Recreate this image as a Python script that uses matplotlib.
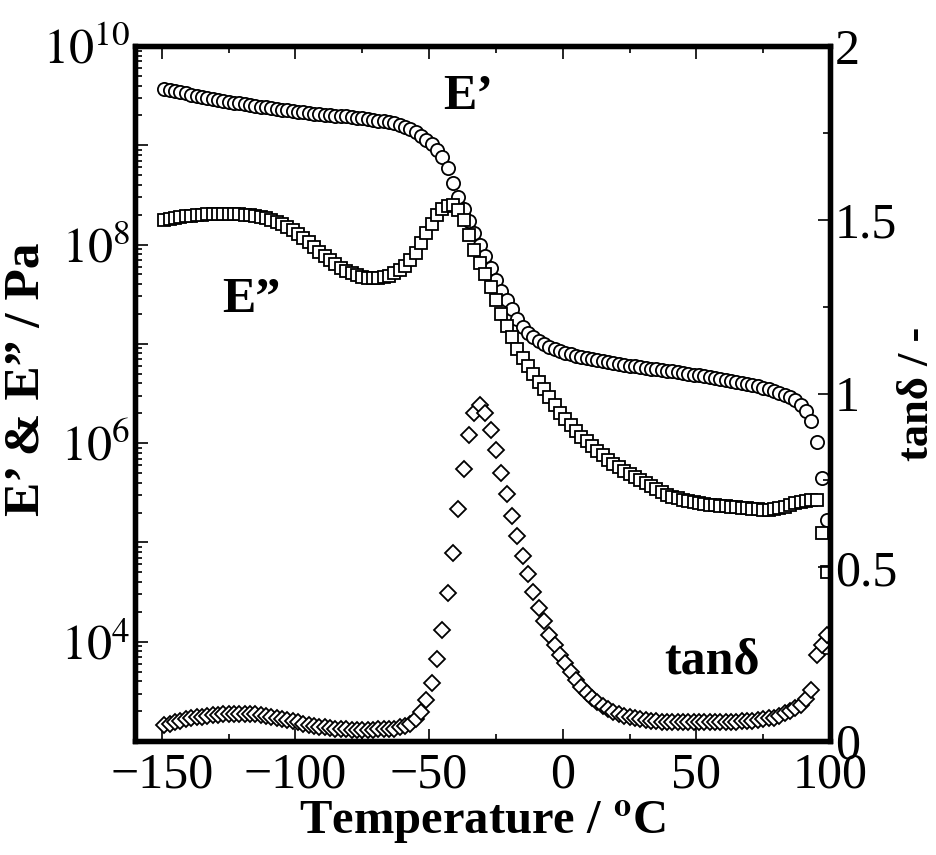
import matplotlib
matplotlib.use("Agg")
import matplotlib.pyplot as plt
import numpy as np
from matplotlib.ticker import LogLocator, MultipleLocator, FuncFormatter, NullFormatter

# Temperature grid of the DMA run (deg C)
temperature = [
    -149, -147, -145, -143, -141, -139, -137, -135, -133, -131,
    -129, -127, -125, -123, -121, -119, -117, -115, -113, -111,
    -109, -107, -105, -103, -101, -99, -97, -95, -93, -91,
    -89, -87, -85, -83, -81, -79, -77, -75, -73, -71,
    -69, -67, -65, -63, -61, -59, -57, -55, -53, -51,
    -49, -47, -45, -43, -41, -39, -37, -35, -33, -31,
    -29, -27, -25, -23, -21, -19, -17, -15, -13, -11,
    -9, -7, -5, -3, -1, 1, 3, 5, 7, 9,
    11, 13, 15, 17, 19, 21, 23, 25, 27, 29,
    31, 33, 35, 37, 39, 41, 43, 45, 47, 49,
    51, 53, 55, 57, 59, 61, 63, 65, 67, 69,
    71, 73, 75, 77, 79, 81, 83, 85, 87, 89,
    91, 93, 95, 97, 99,
]

# log10 of storage modulus E' (Pa)
log_storage = [
    9.57, 9.56, 9.55, 9.54, 9.53, 9.51, 9.50, 9.49, 9.48, 9.47,
    9.46, 9.45, 9.44, 9.43, 9.43, 9.42, 9.41, 9.40, 9.39, 9.39,
    9.38, 9.37, 9.36, 9.36, 9.35, 9.34, 9.34, 9.33, 9.32, 9.32,
    9.31, 9.31, 9.30, 9.29, 9.29, 9.28, 9.27, 9.27, 9.26, 9.25,
    9.24, 9.24, 9.23, 9.22, 9.20, 9.18, 9.16, 9.13, 9.09, 9.05,
    9.01, 8.95, 8.88, 8.77, 8.62, 8.48, 8.36, 8.24, 8.12, 8.00,
    7.88, 7.76, 7.64, 7.53, 7.44, 7.35, 7.25, 7.17, 7.11, 7.07,
    7.03, 7.00, 6.97, 6.95, 6.93, 6.91, 6.90, 6.88, 6.87, 6.86,
    6.85, 6.84, 6.83, 6.82, 6.81, 6.80, 6.79, 6.78, 6.78, 6.77,
    6.76, 6.75, 6.75, 6.74, 6.73, 6.73, 6.72, 6.71, 6.70, 6.69,
    6.69, 6.68, 6.67, 6.66, 6.65, 6.64, 6.63, 6.62, 6.61, 6.60,
    6.59, 6.58, 6.56, 6.55, 6.53, 6.51, 6.49, 6.46, 6.43, 6.38,
    6.32, 6.22, 6.01, 5.65, 5.23,
]

# log10 of loss modulus E'' (Pa)
log_loss = [
    8.25, 8.26, 8.27, 8.28, 8.29, 8.29, 8.30, 8.30, 8.31, 8.31,
    8.31, 8.31, 8.31, 8.31, 8.31, 8.30, 8.30, 8.29, 8.28, 8.27,
    8.25, 8.23, 8.21, 8.18, 8.15, 8.11, 8.07, 8.03, 7.98, 7.93,
    7.88, 7.84, 7.80, 7.76, 7.73, 7.71, 7.69, 7.67, 7.66, 7.66,
    7.66, 7.67, 7.68, 7.71, 7.74, 7.78, 7.84, 7.92, 8.02, 8.12,
    8.21, 8.30, 8.36, 8.39, 8.40, 8.35, 8.25, 8.10, 7.95, 7.81,
    7.70, 7.57, 7.44, 7.30, 7.18, 7.07, 6.95, 6.86, 6.78, 6.70,
    6.62, 6.55, 6.46, 6.38, 6.30, 6.24, 6.18, 6.12, 6.06, 6.02,
    5.97, 5.92, 5.88, 5.83, 5.79, 5.76, 5.72, 5.69, 5.66, 5.63,
    5.60, 5.57, 5.54, 5.51, 5.48, 5.46, 5.45, 5.43, 5.42, 5.41,
    5.40, 5.39, 5.38, 5.38, 5.37, 5.37, 5.36, 5.36, 5.35, 5.35,
    5.34, 5.34, 5.33, 5.33, 5.34, 5.35, 5.36, 5.38, 5.40, 5.41,
    5.42, 5.43, 5.43, 5.10, 4.70,
]

# loss tangent
tan_delta = [
    0.045, 0.048, 0.055, 0.058, 0.062, 0.065, 0.068, 0.070, 0.072, 0.074,
    0.076, 0.077, 0.078, 0.079, 0.079, 0.079, 0.078, 0.077, 0.075, 0.073,
    0.070, 0.067, 0.064, 0.060, 0.057, 0.054, 0.050, 0.047, 0.044, 0.041,
    0.039, 0.037, 0.036, 0.035, 0.034, 0.033, 0.033, 0.033, 0.033, 0.033,
    0.034, 0.034, 0.035, 0.036, 0.039, 0.043, 0.050, 0.062, 0.083, 0.118,
    0.168, 0.236, 0.320, 0.426, 0.541, 0.668, 0.783, 0.881, 0.944, 0.967,
    0.944, 0.895, 0.837, 0.771, 0.711, 0.647, 0.590, 0.532, 0.481, 0.429,
    0.383, 0.345, 0.305, 0.276, 0.247, 0.224, 0.199, 0.176, 0.156, 0.139,
    0.124, 0.111, 0.100, 0.091, 0.083, 0.077, 0.072, 0.068, 0.065, 0.062,
    0.060, 0.058, 0.057, 0.056, 0.055, 0.055, 0.054, 0.054, 0.054, 0.054,
    0.054, 0.054, 0.054, 0.054, 0.054, 0.055, 0.055, 0.056, 0.057, 0.058,
    0.059, 0.061, 0.063, 0.066, 0.066, 0.072, 0.080, 0.087, 0.094, 0.105,
    0.122, 0.147, 0.247, 0.276, 0.305,
]

plt.rcParams["font.family"] = ["Liberation Serif", "DejaVu Serif"]
plt.rcParams["mathtext.fontset"] = "stix"

T = np.array(temperature)
E1 = np.power(10.0, log_storage)
E2 = np.power(10.0, log_loss)
tand = np.array(tan_delta)

fig = plt.figure(figsize=(9.37, 8.55), dpi=100)
ax = fig.add_axes([0.1441, 0.1333, 0.7417, 0.8129])
ax2 = ax.twinx()

mk = dict(linestyle="none", markerfacecolor="white", markeredgecolor="black",
          markeredgewidth=1.3)
ax.plot(T, E1, marker="o", markersize=9.5, **mk)
ax.plot(T, E2, marker="s", markersize=9.3, **mk)
ax2.plot(T, tand, marker="D", markersize=8.3, **mk)

ax.set_yscale("log")
ax.set_xlim(-160, 100)
ax.set_ylim(1e3, 1e10)
ax2.set_ylim(0, 2)

ax.xaxis.set_major_locator(MultipleLocator(50))
ax.xaxis.set_minor_locator(MultipleLocator(25))
ax.yaxis.set_major_locator(LogLocator(base=10, numticks=20))
ax.yaxis.set_minor_locator(LogLocator(base=10, subs=np.arange(2, 10), numticks=20))
ax.yaxis.set_minor_formatter(NullFormatter())


def log_fmt(v, pos):
    e = int(round(np.log10(v)))
    if e % 2 == 0:
        return r"$10^{%d}$" % e
    return ""


ax.yaxis.set_major_formatter(FuncFormatter(log_fmt))
ax2.yaxis.set_major_locator(MultipleLocator(0.5))
ax2.yaxis.set_minor_locator(MultipleLocator(0.25))
ax2.yaxis.set_major_formatter(FuncFormatter(lambda v, p: "%g" % v))

for a in (ax, ax2):
    for s in a.spines.values():
        s.set_linewidth(3.8)
ax.tick_params(which="both", direction="in", top=True, right=False, labelsize=36, width=1.2)
ax.tick_params(axis="x", which="major", pad=8)
ax.tick_params(which="major", length=9)
ax.tick_params(which="minor", length=5)
ax2.tick_params(which="both", direction="in", labelsize=36, width=1.2)
ax2.tick_params(which="major", length=9)
ax2.tick_params(which="minor", length=5)

ax.set_xlabel(r"Temperature / $^{\mathbf{o}}$C", fontsize=35, fontweight="bold")
ax.xaxis.set_label_coords(0.5, -0.083)
ax.set_ylabel("E\u2019 & E\u201d / Pa", fontsize=37, fontweight="bold")
ax.yaxis.set_label_coords(-0.122, 0.52)
ax2.set_ylabel("tan\u03b4 / -", fontsize=32, fontweight="bold")
ax2.yaxis.set_label_coords(1.096, 0.5)

ax.text(0.479, 0.927, "E\u2019", transform=ax.transAxes, fontsize=36,
        fontweight="bold", ha="center", va="center")
ax.text(0.168, 0.635, "E\u201d", transform=ax.transAxes, fontsize=36,
        fontweight="bold", ha="center", va="center")
ax.text(0.830, 0.114, "tan\u03b4", transform=ax.transAxes, fontsize=36,
        fontweight="bold", ha="center", va="center")

fig.savefig("out.png", dpi=100)
